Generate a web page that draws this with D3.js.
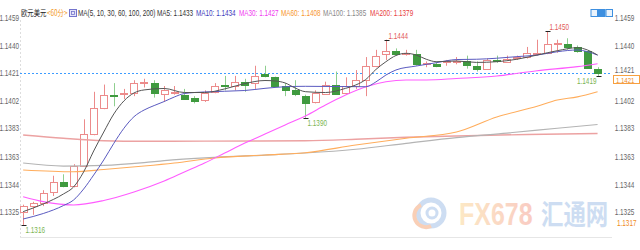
<!DOCTYPE html>
<html>
<head>
<meta charset="utf-8">
<script src="https://cdn.jsdelivr.net/npm/d3@7"></script>
<style>
html, body { margin: 0; padding: 0; background: #fff; }
svg { display: block; font-family: "Liberation Sans", Arial, sans-serif; }
</style>
</head>
<body>
<div id="chart"></div>
<script>
// EUR/USD 60 minute candles
var opens  = [1.1325,1.1329,1.1331,1.1339,1.1346,1.1343,1.1357,1.1379,1.1397,1.1406,
              1.1406,1.1407,1.1414,1.1414,1.1406,1.1407,1.1406,1.1404,1.1402,1.1408,
              1.1413,1.1412,1.1415,1.1414,1.1420,1.1418,1.1412,1.1409,1.1405,1.1401,
              1.1407,1.1413,1.1407,1.1412,1.1416,1.1426,1.1434,1.1436,1.1434,1.1434,
              1.1427,1.1427,1.1428,1.1428,1.1429,1.1426,1.1424,1.1430,1.1429,1.1431,
              1.1432,1.1434,1.1435,1.1441,1.1441,1.1439,1.1436,1.1424];
var highs  = [1.1330,1.1332,1.1340,1.1350,1.1351,1.1358,1.1389,1.1408,1.1413,1.1414,
              1.1410,1.1416,1.1417,1.1416,1.1412,1.1412,1.1410,1.1405,1.1409,1.1414,
              1.1419,1.1419,1.1417,1.1426,1.1426,1.14185,1.1414,1.1416,1.1406,1.1409,
              1.1415,1.1422,1.1418,1.1423,1.1432,1.1437,1.1444,1.1438,1.1437,1.1437,
              1.1429,1.1429,1.1430,1.1432,1.1433,1.1429,1.1431,1.1433,1.1433,1.1433,
              1.1439,1.1444,1.1450,1.1444,1.1445,1.1440,1.1436,1.1425];
var lows   = [1.1316,1.1323,1.1329,1.1336,1.1342,1.1342,1.1357,1.1378,1.1396,1.1398,
              1.1403,1.1405,1.1411,1.1404,1.1401,1.1406,1.14025,1.1400,1.1401,1.1407,
              1.1409,1.1409,1.1408,1.1410,1.1418,1.1411,1.1405,1.1405,1.1390,1.1400,
              1.1407,1.1407,1.1406,1.1410,1.1405,1.1425,1.1430,1.1433,1.1433,1.1426,
              1.1425,1.1425,1.1426,1.1427,1.1424,1.1422,1.1424,1.1428,1.1428,1.1430,
              1.1431,1.1433,1.1434,1.1435,1.1437,1.1435,1.1424,1.1419];
var closes = [1.1329,1.1331,1.1338,1.1346,1.1343,1.1357,1.1379,1.1397,1.1406,1.1405,
              1.1407,1.1414,1.1415,1.1407,1.1409,1.1408,1.1403,1.1402,1.1407,1.1412,
              1.1412,1.1415,1.1413,1.1419,1.14185,1.1412,1.1409,1.1406,1.1400,1.1407,
              1.1413,1.1407,1.1412,1.1416,1.1426,1.1433,1.1436,1.1434,1.14346,1.1427,
              1.1428,1.14255,1.1429,1.1429,1.1426,1.1424,1.1430,1.1429,1.1431,1.1432,
              1.1435,1.1435,1.1441,1.1442,1.1439,1.1436,1.1424,1.1421];

// moving averages, sampled at candle indexes
var ma5Idx  = [0,2,4,5,6,7,8,9,10,11,12,14,16,18,20,22,24,25,26,27,28,30,32,33,34,35,36,37,38,39,40,41,43,45,47,49,51,53,55,56,57];
var ma5Val  = [1.13252,1.13305,1.13374,1.13422,1.13526,1.13671,1.13802,1.13927,1.14017,1.14072,1.14093,1.14103,1.14075,1.14075,1.14100,
               1.14137,1.14158,1.14155,1.14141,1.14106,1.14081,1.14075,1.14104,1.14127,1.14165,1.14234,1.14288,1.14331,1.14346,1.14334,
               1.14305,1.14288,1.14293,1.14283,1.14288,1.14305,1.14334,1.14364,1.14385,1.14369,1.14334];
var ma10Idx = [0,2,4,5,6,7,8,9,10,11,12,13,14,15,16,18,22,24,26,28,34,35,36,37,39,41,43,45,47,49,51,53,55,56,57];
var ma10Val = [1.13201,1.13239,1.13294,1.13332,1.13408,1.13505,1.13609,1.13724,1.13828,1.13908,1.13954,1.13985,1.14013,1.14044,1.14068,
               1.14079,1.14089,1.14104,1.14115,1.14118,1.14115,1.14148,1.14196,1.14231,1.14258,1.14281,1.14303,1.14305,1.14312,1.14323,
               1.14334,1.14357,1.14369,1.14357,1.14334];
var ma30Idx = [0,2,5,8,11,14,16,18,20,22,24,26,28,30,32,34,36,38,40,43,47,51,55,57];
var ma30Val = [1.13355,1.13321,1.13298,1.13329,1.13388,1.13464,1.13526,1.13588,1.13657,1.13726,1.13788,1.13851,1.13913,1.13989,1.14058,
               1.14115,1.14150,1.14162,1.14162,1.14172,1.14189,1.14226,1.14254,1.14274];
var ma60Idx = [0,5,8,12,15,19,24,28,33,38,43,47,51,53,55,57];
var ma60Val = [1.13540,1.13528,1.13543,1.13567,1.13588,1.13623,1.13643,1.13659,1.13712,1.13759,1.13802,1.13906,1.13980,1.14023,1.14045,1.14081];
var ma100Idx = [0,4,8,12,14,19,24,28,33,38,43,48,53,57];
var ma100Val = [1.13588,1.13567,1.13571,1.13590,1.13604,1.13627,1.13643,1.13657,1.13683,1.13724,1.13764,1.13795,1.13828,1.13854];
var ma200Idx = [0,4,8,12,18,28,33,38,43,50,57];
var ma200Val = [1.13782,1.13759,1.13742,1.13738,1.13739,1.13742,1.13752,1.13766,1.13775,1.13785,1.13792];

var maNames = ["MA5","MA10","MA30","MA60","MA100","MA200"];
var maLast  = ["1.1433","1.1434","1.1427","1.1408","1.1385","1.1379"];

var yTicks = [1.1459,1.1440,1.1421,1.1402,1.1383,1.1363,1.1344,1.1325];
var yMin = 1.1317, yMax = 1.1459;

// marked extremes
var markIdx = [0, 28, 36, 52, 57];
var markVal = [1.1316, 1.1390, 1.1444, 1.1450, 1.1419];
var markHigh = [false, false, true, true, false];

var width = 640, height = 250;
var sx = 0.75; // the picture's text is squeezed sideways

var svg = d3.select("#chart").append("svg")
  .attr("width", width)
  .attr("height", height);

function txt(sel, x, y, s, color, anchor, size) {
  return sel.append("text")
    .attr("transform", "translate(" + x + "," + y + ") scale(" + sx + ",1)")
    .attr("text-anchor", anchor || "start")
    .attr("dy", "0.35em")
    .attr("font-size", size || 8.5)
    .attr("fill", color)
    .text(s);
}

var x = d3.scaleBand()
  .domain(d3.range(opens.length))
  .range([19.5, 601.2])
  .paddingInner(0.28);
var cx = function(i) { return Math.round(x(i) + x.bandwidth() / 2) + 0.5; };
var y = d3.scaleLinear().domain([yMin, yMax]).range([223.5, 18]);

// watermark
var wm = svg.append("g").attr("opacity", 0.5);
wm.append("circle").attr("cx", 431).attr("cy", 213).attr("r", 13)
  .attr("fill", "none").attr("stroke", "#9dbde6").attr("stroke-width", 5);
wm.append("path").attr("d", "M421,205 A11,11 0 0 0 431,226")
  .attr("fill", "none").attr("stroke", "#f4a070").attr("stroke-width", 4);
wm.append("circle").attr("cx", 432).attr("cy", 213).attr("r", 5)
  .attr("fill", "none").attr("stroke", "#9dbde6").attr("stroke-width", 3);
var grad = svg.append("defs").append("linearGradient").attr("id", "fxg")
  .attr("x1", "0%").attr("x2", "100%");
grad.append("stop").attr("offset", "0%").attr("stop-color", "#fbd38c");
grad.append("stop").attr("offset", "100%").attr("stop-color", "#f59a88");
wm.append("text")
  .attr("transform", "translate(459,225) scale(0.78,1)")
  .attr("font-size", 32).attr("font-weight", "bold")
  .attr("fill", "url(#fxg)")
  .text("FX678");
wm.append("text")
  .attr("transform", "translate(541,225) scale(0.8,1)")
  .attr("font-size", 28).attr("font-weight", "bold")
  .attr("font-family", "'Noto Sans CJK SC', sans-serif")
  .attr("fill", "#9dbde6")
  .text("汇通网");

// frame
svg.append("line").attr("x1", 20.5).attr("x2", 20.5).attr("y1", 20).attr("y2", 237)
  .attr("stroke", "#ddd").attr("stroke-dasharray", "2,2");
svg.append("line").attr("x1", 20).attr("x2", 612).attr("y1", 237.5).attr("y2", 237.5)
  .attr("stroke", "#e6e6e6");

// current price line
var lastY = Math.round(y(closes[closes.length - 1])) + 0.5;
svg.append("line").attr("x1", 20).attr("x2", 612).attr("y1", lastY).attr("y2", lastY)
  .attr("stroke", "#3d9cff").attr("stroke-dasharray", "2,2");

// candles
var upColor = "#ec8b8b", downColor = "#3f9a3f", downWick = "#8fcf8f";
var candles = svg.append("g");
candles.selectAll("line")
  .data(d3.range(opens.length))
  .join("line")
  .attr("x1", cx).attr("x2", cx)
  .attr("y1", function(i) { return y(highs[i]); })
  .attr("y2", function(i) { return y(lows[i]); })
  .attr("stroke", function(i) { return closes[i] >= opens[i] ? upColor : downWick; });
candles.selectAll("rect")
  .data(d3.range(opens.length))
  .join("rect")
  .attr("x", function(i) { return Math.round(x(i)) + 0.5; })
  .attr("width", Math.round(x.bandwidth()))
  .attr("y", function(i) { return Math.round(y(Math.max(opens[i], closes[i]))) + 0.5; })
  .attr("height", function(i) { return Math.max(1, Math.round(Math.abs(y(opens[i]) - y(closes[i])))); })
  .attr("fill", function(i) { return closes[i] >= opens[i] ? "#fff" : downColor; })
  .attr("stroke", function(i) { return closes[i] >= opens[i] ? upColor : downColor; });

// moving average lines
var maSeries = [
  [ma200Idx, ma200Val, "#eca2a2", 1.4],
  [ma100Idx, ma100Val, "#b4b4b4", 1.2],
  [ma60Idx, ma60Val, "#ffad5c", 1.1],
  [ma30Idx, ma30Val, "#ff5cff", 1.1],
  [ma10Idx, ma10Val, "#5a5ac0", 1],
  [ma5Idx, ma5Val, "#555", 1]
];
var line = d3.line()
  .x(function(d) { return x(d[0]) + x.bandwidth() / 2; })
  .y(function(d) { return y(d[1]); })
  .curve(d3.curveMonotoneX);
maSeries.forEach(function(s) {
  svg.append("path")
    .datum(d3.zip(s[0], s[1]))
    .attr("d", line)
    .attr("fill", "none")
    .attr("stroke", s[2])
    .attr("stroke-width", s[3]);
});

// extreme marks
markIdx.forEach(function(i, k) {
  var my = Math.round(y(markVal[k])) + 0.5;
  svg.append("line").attr("x1", cx(i) - 2).attr("x2", cx(i) + 3).attr("y1", my).attr("y2", my)
    .attr("stroke", "#222");
  var last = i === opens.length - 1;
  txt(svg, last ? cx(i) - 2 : cx(i) + 2, markHigh[k] ? my - 4.5 : my + 5,
      d3.format(".4f")(markVal[k]), markHigh[k] ? "#e25a5a" : "#7cb552", last ? "end" : "start");
});

// axes
var leftAxis = svg.append("g")
  .attr("transform", "translate(19,0)")
  .call(d3.axisLeft(y).tickValues(yTicks).tickSize(0).tickPadding(0).tickFormat(d3.format(".4f")));
var rightAxis = svg.append("g")
  .attr("transform", "translate(614,0)")
  .call(d3.axisRight(y).tickValues(yTicks).tickSize(0).tickPadding(1).tickFormat(d3.format(".4f")));
[leftAxis, rightAxis].forEach(function(a) {
  a.select(".domain").remove();
  a.attr("font-size", 8.5).attr("font-family", null);
  a.selectAll("text").attr("fill", "#666").attr("transform", "scale(" + sx + ",1)");
});
// on the right the current price tag sits just under this label
rightAxis.selectAll(".tick")
  .filter(function(d) { return d === closes[closes.length - 1]; })
  .select("text").attr("y", -3.5);

// price tags on the right
svg.append("rect").attr("x", 613.5).attr("y", lastY + 2).attr("width", 26).attr("height", 8)
  .attr("fill", "#fff").attr("stroke", "#f7a040");
txt(svg, 616, lastY + 6.5, d3.format(".4f")(closes[closes.length - 1]), "#f08a20", "start", 8);
txt(svg, 617, y(yMin), d3.format(".4f")(yMin), "#f08a20");

// header
var head = svg.append("g");
txt(head, 21, 13.5, "欧元美元", "#222").attr("font-family", "'Noto Sans CJK SC', sans-serif");
txt(head, 47, 13.5, "<60分>", "#f39a2a").attr("font-family", "'Noto Sans CJK SC', sans-serif");
head.append("rect").attr("x", 69.5).attr("y", 9.5).attr("width", 7).attr("height", 7)
  .attr("fill", "#e4e4f8").attr("stroke", "#7474cc");
head.append("rect").attr("x", 71.5).attr("y", 11.5).attr("width", 3).attr("height", 3)
  .attr("fill", "none").attr("stroke", "#7474cc").attr("stroke-width", 0.8);
txt(head, 78, 13.5, "MA(5, 10, 30, 60, 100, 200)", "#333");
var headX = [157, 196, 239, 281, 323, 370];
var headColor = ["#333", "#3d3dbb", "#f03cf0", "#f7962a", "#888", "#e84040"];
maNames.forEach(function(nm, k) {
  txt(head, headX[k], 13.5, nm + ": " + maLast[k], headColor[k]);
});

// toolbar icons
[591, 598.5, 606].forEach(function(ix, k) {
  svg.append("rect").attr("x", ix).attr("y", 9.5).attr("width", 6.5).attr("height", 7)
    .attr("fill", k === 1 ? "#3d8fe0" : "#eaf3fc").attr("stroke", "#3d8fe0");
});
</script>
</body>
</html>
